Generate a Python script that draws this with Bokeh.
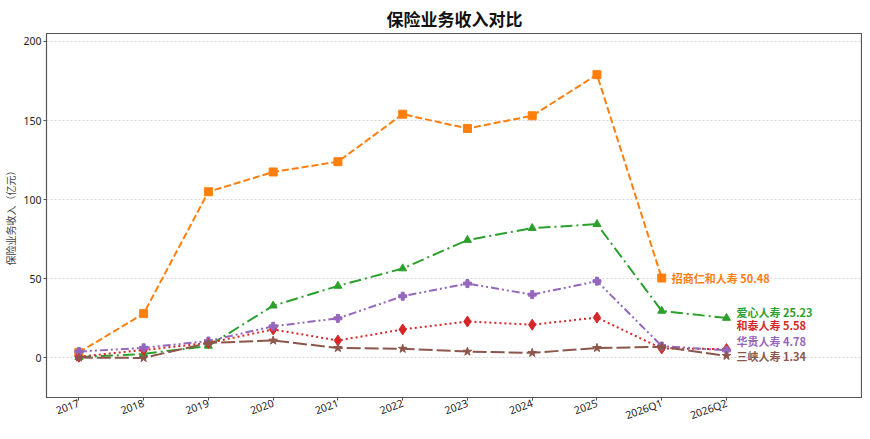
from bokeh.plotting import figure
from bokeh.models import FixedTicker, Range1d
from bokeh.core.properties import value
from bokeh.embed import file_html
from bokeh.resources import INLINE

periods = ["2017", "2018", "2019", "2020", "2021", "2022", "2023", "2024", "2025", "2026Q1", "2026Q2"]
names = ["招商仁和人寿", "爱心人寿", "和泰人寿", "华贵人寿", "三峡人寿"]
zhaoshang = [3.5, 28.0, 105.0, 117.5, 124.0, 154.0, 145.0, 153.0, 179.0, 50.48]
aixin = [0.5, 2.5, 7.6, 33.0, 45.5, 56.5, 74.5, 82.0, 84.5, 29.7, 25.23]
hetai = [0.8, 5.0, 9.5, 18.0, 11.0, 18.0, 23.0, 21.0, 25.5, 6.0, 5.58]
huagui = [4.0, 6.4, 10.7, 20.0, 25.0, 39.0, 47.0, 40.0, 48.5, 7.5, 4.78]
sanxia = [0.2, 0.0, 9.5, 11.0, 6.3, 5.8, 4.0, 3.2, 6.3, 7.0, 1.34]

series = [zhaoshang, aixin, hetai, huagui, sanxia]
colors = ["#ff7f0e", "#2ca02c", "#d62728", "#9467bd", "#8c564b"]
dashes = ["7 3", "12 4 2 4", "2 3", "8 3 2 3 2 3", "14 4"]
markers = ["square", "triangle", "diamond", "plus", "star"]
msizes = [8, 8, 11, 8, 9]
label_dy = [0, 6, 24, 9, 0]

FONT = "Noto Sans CJK SC"
TICK_FONT = "Noto Sans"

p = figure(width=862, height=431, output_backend="svg", toolbar_location=None,
           x_range=Range1d(-0.5, 12.1), y_range=Range1d(-25, 205),
           min_border_left=20, min_border_right=0, min_border_bottom=28, min_border_top=0)

p.title.text = "保险业务收入对比"
p.title.align = "center"
p.title.text_font = FONT
p.title.text_font_size = "17px"
p.title.text_font_style = "bold"
p.title.text_color = "#111111"
p.title.standoff = 6

x_idx = list(range(len(periods)))
for vals, c, d, m, s, name, dy in zip(series, colors, dashes, markers, msizes, names, label_dy):
    xs = x_idx[:len(vals)]
    p.line(xs, vals, line_color=c, line_width=2, line_dash=d)
    p.scatter(xs, vals, marker=m, size=s, fill_color=c, line_color=c)
    p.text([xs[-1]], [vals[-1]], text=[f"{name} {vals[-1]:.2f}"], x_offset=10, y_offset=-dy,
           text_font=value(FONT), text_font_size="11px", text_font_style="bold",
           text_color=c, text_baseline="middle", text_align="left")

p.xaxis.axis_label = None
p.xaxis.ticker = FixedTicker(ticks=x_idx)
p.xaxis.major_label_overrides = {i: t for i, t in enumerate(periods)}
p.xaxis.major_label_orientation = 0.35
p.yaxis.ticker = FixedTicker(ticks=[0, 50, 100, 150, 200])
p.yaxis.axis_label = "保险业务收入（亿元）"
p.yaxis.axis_label_text_font = FONT
p.yaxis.axis_label_text_font_size = "10px"
p.yaxis.axis_label_text_font_style = "normal"
p.yaxis.axis_label_standoff = 2

for ax in (p.xaxis, p.yaxis):
    ax.major_label_text_font = TICK_FONT
    ax.major_label_text_font_size = "10.5px"
    ax.major_label_text_color = "#222222"
    ax.axis_line_color = "#555555"
    ax.major_tick_line_color = "#555555"
    ax.major_tick_out = 3
    ax.major_tick_in = 0
    ax.minor_tick_line_color = None
    ax.major_label_standoff = 2

p.xgrid.grid_line_color = None
p.ygrid.grid_line_color = "#cccccc"
p.ygrid.grid_line_dash = "2 2"
p.ygrid.grid_line_alpha = 0.8
p.outline_line_color = "#555555"
p.outline_line_width = 1.2
p.background_fill_color = "white"
p.border_fill_color = "white"

open("out.html", "w").write(file_html(p, INLINE))
